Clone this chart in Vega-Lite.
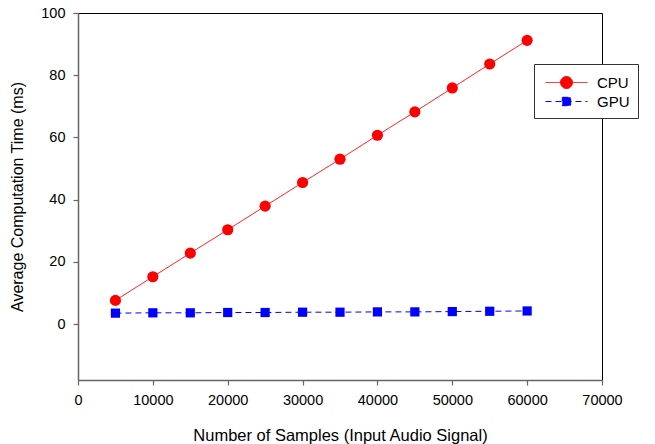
{
  "$schema": "https://vega.github.io/schema/vega-lite/v6.json",
  "autosize": "none",
  "width": 524,
  "height": 367,
  "padding": {"left": 78, "top": 13, "right": 53, "bottom": 64},
  "background": "white",
  "config": {
    "font": "Liberation Sans",
    "view": {"stroke": "#000000", "strokeWidth": 1},
    "axis": {"grid": false, "labelFont": "Liberation Sans", "titleFont": "Liberation Sans", "labelColor": "#000", "titleColor": "#000", "titleFontWeight": "normal", "domainColor": "#666", "domainWidth": 1.5, "tickColor": "#666", "tickWidth": 1.2, "tickSize": 5, "labelFontSize": 14.5, "titleFontSize": 16.5, "labelFlush": false}
  },
  "data": {"values": [
    {"n": 5000, "t": 7.6, "s": "CPU"}, {"n": 10000, "t": 15.2, "s": "CPU"}, {"n": 15000, "t": 22.8, "s": "CPU"},
    {"n": 20000, "t": 30.3, "s": "CPU"}, {"n": 25000, "t": 37.9, "s": "CPU"}, {"n": 30000, "t": 45.5, "s": "CPU"},
    {"n": 35000, "t": 53.0, "s": "CPU"}, {"n": 40000, "t": 60.7, "s": "CPU"}, {"n": 45000, "t": 68.2, "s": "CPU"},
    {"n": 50000, "t": 75.9, "s": "CPU"}, {"n": 55000, "t": 83.6, "s": "CPU"}, {"n": 60000, "t": 91.2, "s": "CPU"},
    {"n": 5000, "t": 3.5, "s": "GPU"}, {"n": 10000, "t": 3.6, "s": "GPU"}, {"n": 15000, "t": 3.6, "s": "GPU"},
    {"n": 20000, "t": 3.7, "s": "GPU"}, {"n": 25000, "t": 3.7, "s": "GPU"}, {"n": 30000, "t": 3.8, "s": "GPU"},
    {"n": 35000, "t": 3.8, "s": "GPU"}, {"n": 40000, "t": 3.9, "s": "GPU"}, {"n": 45000, "t": 3.9, "s": "GPU"},
    {"n": 50000, "t": 4.0, "s": "GPU"}, {"n": 55000, "t": 4.1, "s": "GPU"}, {"n": 60000, "t": 4.2, "s": "GPU"}
  ]},
  "encoding": {
    "x": {"field": "n", "type": "quantitative", "scale": {"domain": [0, 70000], "nice": false, "zero": false},
          "axis": {"values": [0, 10000, 20000, 30000, 40000, 50000, 60000, 70000], "format": "d", "title": "Number of Samples (Input Audio Signal)", "labelPadding": 8, "titlePadding": 21}},
    "y": {"field": "t", "type": "quantitative", "scale": {"domain": [-18, 100], "nice": false, "zero": false},
          "axis": {"values": [0, 20, 40, 60, 80, 100], "title": "Average Computation Time (ms)", "labelPadding": 8, "titlePadding": 15, "titleFontSize": 16}}
  },
  "layer": [
    {
      "mark": {"type": "line", "strokeWidth": 1},
      "encoding": {
        "color": {"field": "s", "type": "nominal", "scale": {"domain": ["CPU", "GPU"], "range": ["#ff0000", "#0000ff"]},
          "legend": {
            "title": null, "orient": "none", "legendX": 456, "legendY": 51,
            "padding": 8, "strokeColor": "#333", "fillColor": "#fff",
            "labelFontSize": 15, "labelFont": "Liberation Sans", "labelColor": "#000",
            "symbolSize": 400, "symbolStrokeWidth": 1, "labelOffset": 34, "rowPadding": -2,
            "encode": {"symbols": {"update": {
              "shape": {"signal": "datum.value == 'CPU' ? 'M-0.7,0H3.5M0.8,0A0.6,0.6 0 1,0 2,0A0.6,0.6 0 1,0 0.8,0Z' : 'M-0.7,0H3.5M0.98,-0.42H1.82V0.42H0.98Z'"},
              "fill": {"signal": "datum.value == 'CPU' ? '#ff0000' : '#0000ff'"},
              "stroke": {"signal": "datum.value == 'CPU' ? '#ff0000' : '#0000ff'"},
              "strokeDash": {"signal": "datum.value == 'CPU' ? [1,0] : [6,4]"},
              "opacity": {"value": 1}
            }}}
          }},
        "strokeDash": {"condition": {"test": "datum.s == 'GPU'", "value": [6, 4]}, "value": [1, 0]}
      }
    },
    {
      "mark": {"type": "point", "filled": true, "opacity": 1},
      "encoding": {
        "fill": {"condition": {"test": "datum.s == 'CPU'", "value": "#ff0000"}, "value": "#0000ff"},
        "shape": {"condition": {"test": "datum.s == 'CPU'", "value": "circle"}, "value": "square"},
        "size": {"condition": {"test": "datum.s == 'CPU'", "value": 125}, "value": 85}
      }
    }
  ]
}
